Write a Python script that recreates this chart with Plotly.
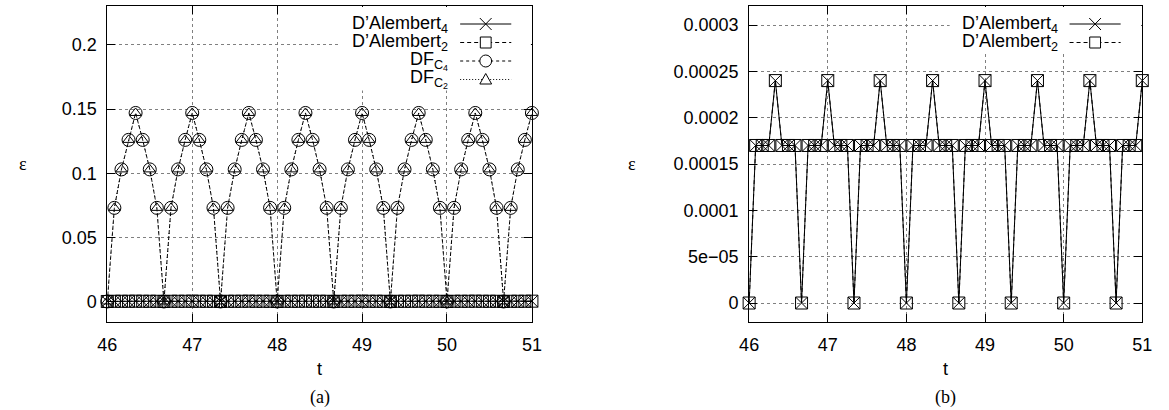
import plotly.graph_objects as go

W, H = 1169, 410

# ---------------- data ----------------
t = [46.0, 46.0833, 46.1667, 46.25, 46.3333, 46.4167, 46.5, 46.5833, 46.6667, 46.75, 46.8333, 46.9167,
     47.0, 47.0833, 47.1667, 47.25, 47.3333, 47.4167, 47.5, 47.5833, 47.6667, 47.75, 47.8333, 47.9167,
     48.0, 48.0833, 48.1667, 48.25, 48.3333, 48.4167, 48.5, 48.5833, 48.6667, 48.75, 48.8333, 48.9167,
     49.0, 49.0833, 49.1667, 49.25, 49.3333, 49.4167, 49.5, 49.5833, 49.6667, 49.75, 49.8333, 49.9167,
     50.0, 50.0833, 50.1667, 50.25, 50.3333, 50.4167, 50.5, 50.5833, 50.6667, 50.75, 50.8333, 50.9167,
     51.0]

dalembert4 = [0, 0.00017, 0.00017, 0.00017, 0.00024, 0.00017, 0.00017, 0.00017,
              0, 0.00017, 0.00017, 0.00017, 0.00024, 0.00017, 0.00017, 0.00017,
              0, 0.00017, 0.00017, 0.00017, 0.00024, 0.00017, 0.00017, 0.00017,
              0, 0.00017, 0.00017, 0.00017, 0.00024, 0.00017, 0.00017, 0.00017,
              0, 0.00017, 0.00017, 0.00017, 0.00024, 0.00017, 0.00017, 0.00017,
              0, 0.00017, 0.00017, 0.00017, 0.00024, 0.00017, 0.00017, 0.00017,
              0, 0.00017, 0.00017, 0.00017, 0.00024, 0.00017, 0.00017, 0.00017,
              0, 0.00017, 0.00017, 0.00017, 0.00024]
dalembert2 = [0, 0.00017, 0.00017, 0.00017, 0.00024, 0.00017, 0.00017, 0.00017,
              0, 0.00017, 0.00017, 0.00017, 0.00024, 0.00017, 0.00017, 0.00017,
              0, 0.00017, 0.00017, 0.00017, 0.00024, 0.00017, 0.00017, 0.00017,
              0, 0.00017, 0.00017, 0.00017, 0.00024, 0.00017, 0.00017, 0.00017,
              0, 0.00017, 0.00017, 0.00017, 0.00024, 0.00017, 0.00017, 0.00017,
              0, 0.00017, 0.00017, 0.00017, 0.00024, 0.00017, 0.00017, 0.00017,
              0, 0.00017, 0.00017, 0.00017, 0.00024, 0.00017, 0.00017, 0.00017,
              0, 0.00017, 0.00017, 0.00017, 0.00024]
df_c4 = [0, 0.073, 0.103, 0.126, 0.147, 0.126, 0.103, 0.073,
         0, 0.073, 0.103, 0.126, 0.147, 0.126, 0.103, 0.073,
         0, 0.073, 0.103, 0.126, 0.147, 0.126, 0.103, 0.073,
         0, 0.073, 0.103, 0.126, 0.147, 0.126, 0.103, 0.073,
         0, 0.073, 0.103, 0.126, 0.147, 0.126, 0.103, 0.073,
         0, 0.073, 0.103, 0.126, 0.147, 0.126, 0.103, 0.073,
         0, 0.073, 0.103, 0.126, 0.147, 0.126, 0.103, 0.073,
         0, 0.073, 0.103, 0.126, 0.147]
df_c2 = [0, 0.073, 0.103, 0.126, 0.147, 0.126, 0.103, 0.073,
         0, 0.073, 0.103, 0.126, 0.147, 0.126, 0.103, 0.073,
         0, 0.073, 0.103, 0.126, 0.147, 0.126, 0.103, 0.073,
         0, 0.073, 0.103, 0.126, 0.147, 0.126, 0.103, 0.073,
         0, 0.073, 0.103, 0.126, 0.147, 0.126, 0.103, 0.073,
         0, 0.073, 0.103, 0.126, 0.147, 0.126, 0.103, 0.073,
         0, 0.073, 0.103, 0.126, 0.147, 0.126, 0.103, 0.073,
         0, 0.073, 0.103, 0.126, 0.147]

x_ticks = [46, 47, 48, 49, 50, 51]
x_ticktext = ["46", "47", "48", "49", "50", "51"]
left_yticks = [0, 0.05, 0.1, 0.15, 0.2]
left_yticktext = ["0", "0.05", "0.1", "0.15", "0.2"]
right_yticks = [0, 0.00005, 0.0001, 0.00015, 0.0002, 0.00025, 0.0003]
right_yticktext = ["0", "5e\u221205", "0.0001", "0.00015", "0.0002", "0.00025", "0.0003"]

names = {
    "d4": "D\u2019Alembert<sub>4</sub>",
    "d2": "D\u2019Alembert<sub>2</sub>",
    "c4": "DF<sub>C<sub>4</sub></sub>",
    "c2": "DF<sub>C<sub>2</sub></sub>",
}

# ---------------- styles ----------------
FONT = "Liberation Sans, Arial, sans-serif"
SERIF = "Liberation Serif, Times New Roman, serif"
FS = 18
styles = {
    "d4": dict(dash="solid", symbol="x-thin-open", size=12),
    "d2": dict(dash="4px,3px", symbol="square-open", size=12),
    "c4": dict(dash="3px,3px", symbol="circle-open", size=13),
    "c2": dict(dash="1px,2px", symbol="triangle-up-open", size=10),
}

fig = go.Figure()


def add(key, y, xa, ya):
    s = styles[key]
    fig.add_trace(go.Scatter(
        x=t, y=y, xaxis=xa, yaxis=ya, mode="lines+markers", name=key, showlegend=False,
        line=dict(color="black", width=1, dash=s["dash"]),
        marker=dict(symbol=s["symbol"], size=s["size"], color="black",
                    line=dict(color="black", width=1)),
        cliponaxis=False,
    ))


add("d4", dalembert4, "x", "y")
add("d2", dalembert2, "x", "y")
add("c4", df_c4, "x", "y")
add("c2", df_c2, "x", "y")
add("d4", dalembert4, "x2", "y2")
add("d2", dalembert2, "x2", "y2")

# plot geometry (pixels)
L1, R1 = 99, 531
L2, R2 = 752, 1152
TOP, BOT = 6, 322


def px(x):
    return x / W


def py(y):
    return 1 - y / H


axis_common = dict(
    showline=True, linecolor="black", linewidth=1, mirror="ticks",
    ticks="inside", ticklen=8, tickcolor="black", tickwidth=1,
    showgrid=True, gridcolor="#808080", griddash="dot", gridwidth=1,
    zeroline=False, tickfont=dict(family=FONT, size=FS, color="black"),
    ticklabelstandoff=6,
)

fig.update_layout(
    width=W, height=H, margin=dict(l=0, r=0, t=0, b=0),
    paper_bgcolor="white", plot_bgcolor="white", showlegend=False,
    xaxis=dict(domain=[px(L1), px(R1)], range=[46, 51], tickvals=x_ticks, ticktext=x_ticktext,
               anchor="y", **axis_common),
    yaxis=dict(domain=[py(BOT), py(TOP)], range=[-0.016, 0.2304], tickvals=left_yticks,
               ticktext=left_yticktext, anchor="x", **axis_common),
    xaxis2=dict(domain=[px(L2), px(R2)], range=[46, 51], tickvals=x_ticks, ticktext=x_ticktext,
                anchor="y2", **axis_common),
    yaxis2=dict(domain=[py(BOT), py(TOP)], range=[-0.0000205, 0.0003205], tickvals=right_yticks,
                ticktext=right_yticktext, anchor="x2", **axis_common),
)

annotations = []
shapes = []


def text(x, y, s, size=FS, family=FONT, xanchor="center"):
    annotations.append(dict(x=px(x), y=py(y), xref="paper", yref="paper", text=s, showarrow=False,
                            xanchor=xanchor, yanchor="middle",
                            font=dict(family=family, size=size, color="black")))


# axis labels
text((L1 + R1) / 2, 369, "t")
text((L2 + R2) / 2, 369, "t")
text(13, 164, "\u03b5", family=SERIF)
text(633, 164, "\u03b5", family=SERIF)
text((L1 + R1) / 2, 397, "(a)", size=18, family=SERIF)
text((L2 + R2) / 2, 397, "(b)", size=18, family=SERIF)


def legend_marker(key, cx, cy):
    lw = dict(color="black", width=1)
    if key == "d4":
        r = 6
        shapes.append(dict(type="line", xref="paper", yref="paper", x0=px(cx - r), x1=px(cx + r),
                           y0=py(cy - r), y1=py(cy + r), line=lw, layer="above"))
        shapes.append(dict(type="line", xref="paper", yref="paper", x0=px(cx - r), x1=px(cx + r),
                           y0=py(cy + r), y1=py(cy - r), line=lw, layer="above"))
    elif key == "d2":
        r = 5.5
        shapes.append(dict(type="rect", xref="paper", yref="paper", x0=px(cx - r), x1=px(cx + r),
                           y0=py(cy + r), y1=py(cy - r), line=lw, fillcolor="white", layer="above"))
    elif key == "c4":
        r = 6
        shapes.append(dict(type="circle", xref="paper", yref="paper", x0=px(cx - r), x1=px(cx + r),
                           y0=py(cy + r), y1=py(cy - r), line=lw, fillcolor="white", layer="above"))
    else:
        r = 6
        p = "M {} {} L {} {} L {} {} Z".format(px(cx - r), py(cy + 4.5), px(cx + r), py(cy + 4.5),
                                               px(cx), py(cy - 6))
        shapes.append(dict(type="path", xref="paper", yref="paper", path=p, line=lw,
                           fillcolor="white", layer="above"))


def legend(keys, text_right, s0, s1, y0, dy, bg_left, bg_right):
    n = len(keys)
    shapes.append(dict(type="rect", xref="paper", yref="paper", x0=px(bg_left), x1=px(bg_right - 1),
                       y0=py(TOP + 1), y1=py(y0 + dy * (n - 1) + 11), line=dict(width=0),
                       fillcolor="white", layer="above"))
    for i, k in enumerate(keys):
        yy = y0 + i * dy
        text(text_right, yy, names[k], xanchor="right")
        d = styles[k]["dash"]
        shapes.append(dict(type="line", xref="paper", yref="paper", x0=px(s0), x1=px(s1),
                           y0=py(yy), y1=py(yy), line=dict(color="black", width=1, dash=d),
                           layer="above"))
        legend_marker(k, (s0 + s1) / 2, yy)


legend(["d4", "d2", "c4", "c2"], 448, 458, 510, 24, 18.5, 336, R1)
legend(["d4", "d2"], 1068, 1078, 1130, 24, 18.5, 956, R2)

fig.update_layout(annotations=annotations, shapes=shapes)

fig.write_html("out.html")
